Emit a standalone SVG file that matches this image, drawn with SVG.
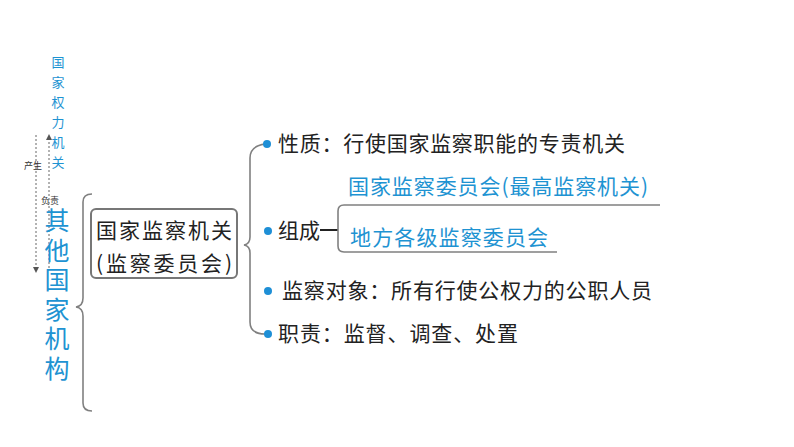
<svg xmlns="http://www.w3.org/2000/svg" width="794" height="447" viewBox="0 0 794 447">
<defs>
<marker id="ah" markerWidth="6" markerHeight="6" refX="3" refY="3" orient="auto" markerUnits="userSpaceOnUse">
<path d="M0,0 L6,3 L0,6 Z" fill="#555"/>
</marker>
<style>
.t{font-family:"Noto Sans CJK SC","Noto Sans",sans-serif;fill:#222;}
.b{font-family:"Noto Sans CJK SC","Noto Sans",sans-serif;fill:#1e93d2;}
.v{writing-mode:vertical-rl;}
.s{font-family:"Noto Sans CJK SC",sans-serif;fill:#333;font-size:9px;}
.br{fill:none;stroke:#808080;stroke-width:1.6;}
.dot{fill:#1e8fd6;}
.dash{stroke:#666;stroke-width:1;stroke-dasharray:2,2;fill:none;}
</style>
</defs>
<rect width="794" height="447" fill="#fff"/>

<g id="top-label">
<text class="b v" font-size="13" letter-spacing="7" x="58" y="56">国家权力机关</text>
</g>

<g id="connectors">
<line class="dash" x1="36" y1="135" x2="36" y2="270" marker-end="url(#ah)"/>
<line class="dash" x1="49" y1="268" x2="49" y2="137" marker-end="url(#ah)"/>
<path class="br" d="M92,194 Q83,194 83,202 L83,298 Q83,306 76,307 Q83,308 83,316 L83,403 Q83,411 92,411"/>
<path class="br" d="M265,144 Q250,146 250,158 L250,237 Q250,244 244,245 Q250,246 250,253 L250,322 Q250,334 265,334"/>
<line x1="320" y1="230" x2="338" y2="230" stroke="#222" stroke-width="2"/>
<path class="br" d="M660,205 L344,205 Q338,205 338,211 L338,246 Q338,252 344,252 L557,252"/>
</g>

<g id="labels-small">
<text class="s" x="24" y="169">产生</text>
<text class="s" x="41" y="204">负责</text>
</g>

<g id="other-organs">
<text class="b v" font-size="25" letter-spacing="4.5" x="57" y="208">其他国家机构</text>
</g>

<g id="main-box">
<rect x="91" y="209" width="146" height="69" rx="5" fill="#fff" stroke="#777" stroke-width="2"/>
<text class="t" font-size="21" x="96" y="238" textLength="136" lengthAdjust="spacing">国家监察机关</text>
<text class="t" font-size="21" x="96" y="271" textLength="136" lengthAdjust="spacing">(监察委员会)</text>
</g>

<g id="nature">
<circle class="dot" cx="267" cy="144" r="4"/>
<text class="t" font-size="21" x="278" y="151" textLength="347" lengthAdjust="spacing">性质：行使国家监察职能的专责机关</text>
</g>

<g id="composition">
<circle class="dot" cx="268" cy="231" r="4"/>
<text class="t" font-size="21" x="278" y="238" textLength="42" lengthAdjust="spacing">组成</text>
</g>

<g id="national-commission">
<text class="b" font-size="21" x="348" y="194" textLength="300" lengthAdjust="spacing">国家监察委员会(最高监察机关)</text>
</g>

<g id="local-commission">
<text class="b" font-size="21" x="350" y="245" textLength="198" lengthAdjust="spacing">地方各级监察委员会</text>
</g>

<g id="object">
<circle class="dot" cx="268" cy="291" r="4"/>
<text class="t" font-size="21" x="282" y="298" textLength="370" lengthAdjust="spacing">监察对象：所有行使公权力的公职人员</text>
</g>

<g id="duty">
<circle class="dot" cx="268" cy="334" r="4"/>
<text class="t" font-size="21" x="278" y="341" textLength="240" lengthAdjust="spacing">职责：监督、调查、处置</text>
</g>
</svg>
